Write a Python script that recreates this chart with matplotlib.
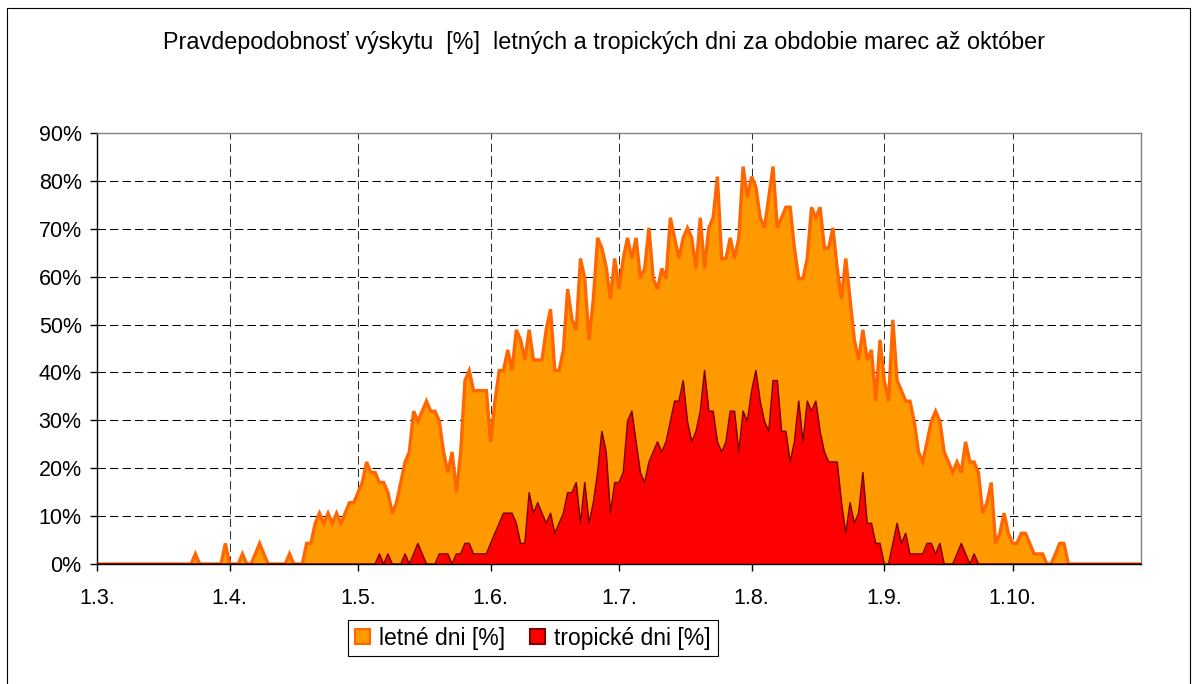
import matplotlib.pyplot as plt
import numpy as np
from matplotlib.patches import Patch, Rectangle

plt.rcParams['font.family'] = ['Liberation Sans', 'DejaVu Sans']

# day index from 1.3. (0) to 31.10. (244)
tick_days = [0, 31, 61, 92, 122, 153, 184, 214]
tick_labels = ['1.3.', '1.4.', '1.5.', '1.6.', '1.7.', '1.8.', '1.9.', '1.10.']

# letne dni [%], one value per day
letne = [0, 0, 0, 0, 0, 0, 0, 0, 0, 0, 0, 0, 0, 0, 0, 0, 0, 0, 0, 0,
         0, 0, 0, 2.1, 0, 0, 0, 0, 0, 0, 4.3, 0, 0, 0, 2.1, 0, 0, 2.1, 4.3, 2.1,
         0, 0, 0, 0, 0, 2.1, 0, 0, 0, 4.3, 4.3, 8.5, 10.6, 8.5, 10.6, 8.5, 10.6, 8.5, 10.6, 12.8,
         12.8, 14.9, 17, 21.3, 19.1, 19.1, 17, 17, 14.9, 10.6, 12.8, 17, 21.3, 23.4, 31.9, 29.8, 31.9, 34, 31.9, 31.9,
         29.8, 23.4, 19.1, 23.4, 14.9, 23.4, 38.3, 40.4, 36.2, 36.2, 36.2, 36.2, 25.5, 34, 40.4, 40.4, 44.7, 40.4, 48.9, 46.8,
         42.6, 48.9, 42.6, 42.6, 42.6, 49, 53.2, 40.4, 40.4, 44.7, 57.4, 51.1, 48.9, 63.8, 59.6, 46.8, 55.3, 68.1, 66, 62,
         55.3, 63.8, 57.4, 63.8, 68.1, 63.8, 68.1, 59.6, 61.7, 70.2, 59.6, 57.4, 61.7, 59.6, 72.3, 68.1, 63.8, 68.1, 70.2, 68.1,
         61.7, 72.3, 61.7, 70.2, 72.3, 80.9, 63.8, 63.8, 68.1, 63.8, 68.1, 83, 76.6, 80.9, 78.7, 72.3, 70.2, 76.6, 83, 70.2,
         72.3, 74.5, 74.5, 66, 59.6, 59.6, 63.8, 74.5, 72.3, 74.5, 66, 66, 70.2, 61.7, 55.3, 63.8, 55.3, 46.8, 42.6, 48.9,
         42.6, 44.7, 34, 46.8, 38.3, 34, 51, 38.3, 36.2, 34, 34, 29.8, 23.4, 21.3, 25.5, 29.8, 31.9, 29.8, 23.4, 21.3,
         19.1, 21.3, 19.1, 25.5, 21.3, 21.3, 19.1, 10.6, 12.8, 17, 4.3, 6.4, 10.6, 6.4, 4.3, 4.3, 6.4, 6.4, 4.3, 2.1,
         2.1, 2.1, 0, 0, 2.1, 4.3, 4.3, 0, 0, 0, 0, 0, 0, 0, 0, 0, 0, 0, 0, 0,
         0, 0, 0, 0, 0]

# tropicke dni [%]
tropicke = [0, 0, 0, 0, 0, 0, 0, 0, 0, 0, 0, 0, 0, 0, 0, 0, 0, 0, 0, 0,
            0, 0, 0, 0, 0, 0, 0, 0, 0, 0, 0, 0, 0, 0, 0, 0, 0, 0, 0, 0,
            0, 0, 0, 0, 0, 0, 0, 0, 0, 0, 0, 0, 0, 0, 0, 0, 0, 0, 0, 0,
            0, 0, 0, 0, 0, 0, 2.1, 0, 2.1, 0, 0, 0, 2.1, 0, 2.1, 4.3, 2.1, 0, 0, 0,
            2.1, 2.1, 2.1, 0, 2.1, 2.1, 4.3, 4.3, 2.1, 2.1, 2.1, 2.1, 4.3, 6.4, 8.5, 10.6, 10.6, 10.6, 8.5, 4.3,
            4.3, 14.9, 10.6, 12.8, 10.6, 8.5, 10.6, 6.4, 8.5, 10.6, 14.9, 14.9, 17, 8.5, 17, 8.5, 12.8, 19.1, 27.7, 23.4,
            10.6, 17, 17, 19.1, 29.8, 31.9, 25.5, 19.1, 17, 21.3, 23.4, 25.5, 23.4, 25.5, 29.8, 34, 34, 38.3, 29.8, 25.5,
            27.7, 31.9, 40.4, 31.9, 31.9, 25.5, 23.4, 25.5, 31.9, 31.9, 23.4, 31.9, 29.8, 36.2, 40.4, 34, 29.8, 27.7, 38.3, 38.3,
            27.7, 27.7, 21.3, 25.5, 34, 25.5, 34, 31.9, 34, 27.7, 23.4, 21.3, 21.3, 21.3, 12.8, 6.4, 12.8, 8.5, 10.6, 19.1,
            8.5, 8.5, 4.3, 4.3, 0, 0, 4.3, 8.5, 4.3, 6.4, 2.1, 2.1, 2.1, 2.1, 4.3, 4.3, 2.1, 4.3, 0, 0,
            0, 2.1, 4.3, 2.1, 0, 2.1, 0, 0, 0, 0, 0, 0, 0, 0, 0, 0, 0, 0, 0, 0,
            0, 0, 0, 0, 0, 0, 0, 0, 0, 0, 0, 0, 0, 0, 0, 0, 0, 0, 0, 0,
            0, 0, 0, 0, 0]

days = np.arange(len(letne))

fig = plt.figure(figsize=(11.98, 6.84), dpi=100)
ax = fig.add_axes([97/1198, 1-564/684, (1141-97)/1198, (564-133)/684])

# gridlines behind the areas
for v in range(10, 90, 10):
    ax.axhline(v, color='black', lw=0.75, ls=(0, (8, 4)), zorder=0)
for d in tick_days[1:]:
    ax.axvline(d, color='#303030', lw=0.75, ls=(0, (8, 4)), zorder=0)

ax.fill_between(days, letne, color='#FF9900', lw=0, zorder=1)
ax.plot(days, letne, color='#FF6600', lw=2.4, zorder=2, solid_joinstyle='miter')
ax.fill_between(days, tropicke, color='#FF0000', lw=0, zorder=3)
ax.plot(days, tropicke, color='#800000', lw=1.1, zorder=4)

ax.set_xlim(0, 244)
ax.set_ylim(0, 90)
ax.set_xticks(tick_days)
ax.set_xticklabels(tick_labels)
ax.set_yticks(range(0, 100, 10))
ax.set_yticklabels([f'{v}%' for v in range(0, 100, 10)])
ax.tick_params(direction='out', length=5, width=1, labelsize=15.5, colors='black')
ax.tick_params(axis='y', pad=6)
ax.tick_params(axis='x', pad=12)

for s in ['left', 'bottom']:
    ax.spines[s].set_color('black')
    ax.spines[s].set_linewidth(1)
for s in ['top', 'right']:
    ax.spines[s].set_color('#808080')
    ax.spines[s].set_linewidth(1)
ax.spines['bottom'].set_zorder(5)

fig.text(604/1198, 1-42/684,
         'Pravdepodobnosť výskytu  [%]  letných a tropických dni za obdobie marec až október',
         ha='center', va='center', fontsize=16.8)

handles = [Patch(facecolor='#FF9900', edgecolor='#FF6600', lw=1.5),
           Patch(facecolor='#FF0000', edgecolor='#800000', lw=1.5)]
leg = fig.legend(handles, ['letné dni [%]', 'tropické dni [%]'], loc='center',
                 bbox_to_anchor=(533/1198, 1-638/684), ncol=2, fontsize=16.5,
                 frameon=True, fancybox=False, edgecolor='black', framealpha=1,
                 handlelength=0.65, handleheight=0.65, handletextpad=0.4,
                 columnspacing=1.1, borderpad=0.3)
leg.get_frame().set_linewidth(0.8)

# outer chart border
fig.add_artist(Rectangle((7/1198, -0.02), (1190-7)/1198, 1.02-8/684,
                         transform=fig.transFigure, fill=False,
                         edgecolor='black', lw=0.8))

fig.savefig('out.png', dpi=100)
